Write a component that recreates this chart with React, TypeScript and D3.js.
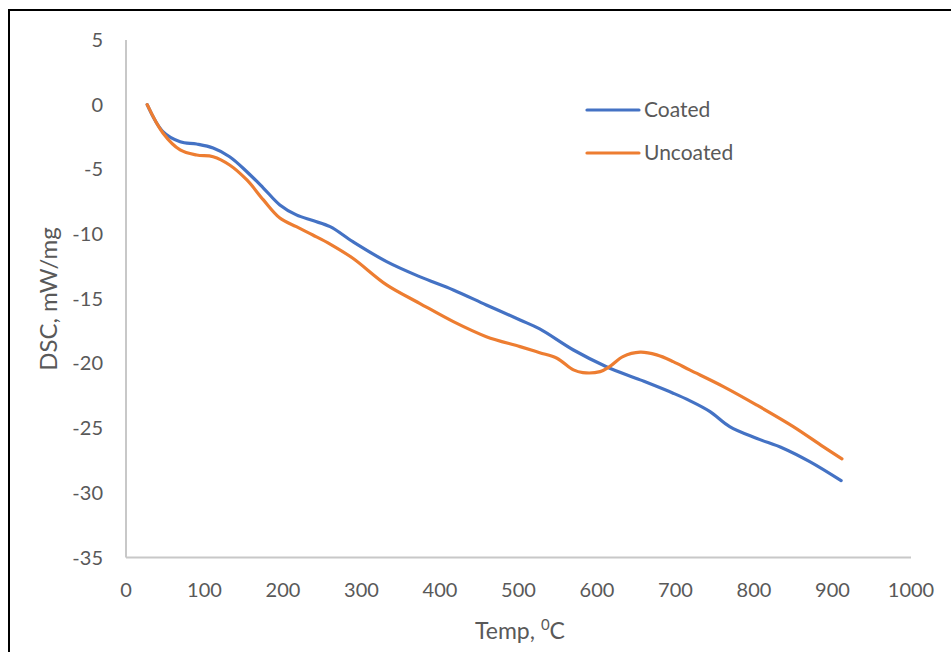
import React from 'react';
import * as d3 from 'd3';

// Temperature (°C) and DSC signal (mW/mg)
const coatedTemp = [27, 47, 69, 90, 111, 132, 154, 175, 196, 217, 238, 260, 289, 332, 374, 417, 459, 502, 527, 570, 612, 655, 697, 718, 744, 769, 803, 837, 871, 911];
const coatedDsc = [0, -2.08, -2.86, -3.04, -3.35, -4.02, -5.18, -6.44, -7.75, -8.52, -8.96, -9.43, -10.59, -12.13, -13.29, -14.32, -15.48, -16.64, -17.33, -18.96, -20.25, -21.27, -22.3, -22.87, -23.72, -24.88, -25.78, -26.55, -27.59, -29.06];

const uncoatedTemp = [27, 47, 69, 90, 111, 132, 154, 175, 196, 217, 238, 260, 289, 332, 374, 417, 459, 502, 527, 549, 570, 582, 604, 616, 633, 655, 676, 697, 718, 761, 803, 850, 888, 912];
const uncoatedDsc = [0, -2.19, -3.5, -3.89, -4.02, -4.66, -5.82, -7.36, -8.76, -9.43, -10.07, -10.77, -11.87, -13.93, -15.35, -16.77, -17.93, -18.7, -19.17, -19.6, -20.5, -20.71, -20.63, -20.25, -19.47, -19.13, -19.34, -19.86, -20.5, -21.79, -23.2, -24.88, -26.43, -27.38];

const xTicks = [0, 100, 200, 300, 400, 500, 600, 700, 800, 900, 1000];
const yTicks = [5, 0, -5, -10, -15, -20, -25, -30, -35];

const seriesNames = ['Coated', 'Uncoated'];
const seriesColors = ['#4472C4', '#ED7D31'];

const W = 951;
const H = 652;
const textColor = '#595959';
const font = 'Lato, "Open Sans", sans-serif';

export default function App() {
  const x = d3.scaleLinear().domain([0, 1000]).range([126, 911]);
  const y = d3.scaleLinear().domain([-35, 5]).range([557.5, 40]);

  const line = d3
    .line<[number, number]>()
    .x((d) => x(d[0]))
    .y((d) => y(d[1]))
    .curve(d3.curveCatmullRom.alpha(0.5));

  const series = [
    coatedTemp.map((t, i) => [t, coatedDsc[i]] as [number, number]),
    uncoatedTemp.map((t, i) => [t, uncoatedDsc[i]] as [number, number]),
  ];

  return (
    <div style={{ position: 'fixed', left: 0, top: 0 }}>
      <svg width={W} height={H} style={{ display: 'block', background: '#fff' }}>
        <rect x={9} y={10} width={960} height={660} fill="#fff" stroke="#000" strokeWidth={2} />

        {/* axis lines */}
        <line x1={x(0)} x2={x(0)} y1={y(5)} y2={y(-35)} stroke="#C8C8C8" strokeWidth={2} />
        <line x1={x(0)} x2={x(1000)} y1={y(-35)} y2={y(-35)} stroke="#C8C8C8" strokeWidth={2} />

        {yTicks.map((t) => (
          <text key={t} x={103} y={y(t)} dy="0.35em" textAnchor="end" fontSize={20} fill={textColor} fontFamily={font}>
            {t}
          </text>
        ))}
        {xTicks.map((t) => (
          <text key={t} x={x(t)} y={597} textAnchor="middle" fontSize={20} fill={textColor} fontFamily={font}>
            {t}
          </text>
        ))}

        <text
          transform={`translate(57,${299}) rotate(-90)`}
          textAnchor="middle"
          fontSize={24}
          fill={textColor}
          fontFamily={font}
        >
          DSC, mW/mg
        </text>
        <text x={520} y={639} textAnchor="middle" fontSize={23} fill={textColor} fontFamily={font}>
          Temp, <tspan dy={-9} fontSize={15}>0</tspan>
          <tspan dy={9}>C</tspan>
        </text>

        {series.map((s, i) => (
          <path key={i} d={line(s) ?? ''} fill="none" stroke={seriesColors[i]} strokeWidth={3.2} strokeLinecap="round" />
        ))}

        {seriesNames.map((n, i) => (
          <g key={n} transform={`translate(0,${110 + i * 43})`}>
            <line x1={587} x2={639} y1={0} y2={0} stroke={seriesColors[i]} strokeWidth={3.2} strokeLinecap="round" />
            <text x={644} y={0} dy="0.35em" fontSize={21} fill={textColor} fontFamily={font}>
              {n}
            </text>
          </g>
        ))}
      </svg>
    </div>
  );
}
